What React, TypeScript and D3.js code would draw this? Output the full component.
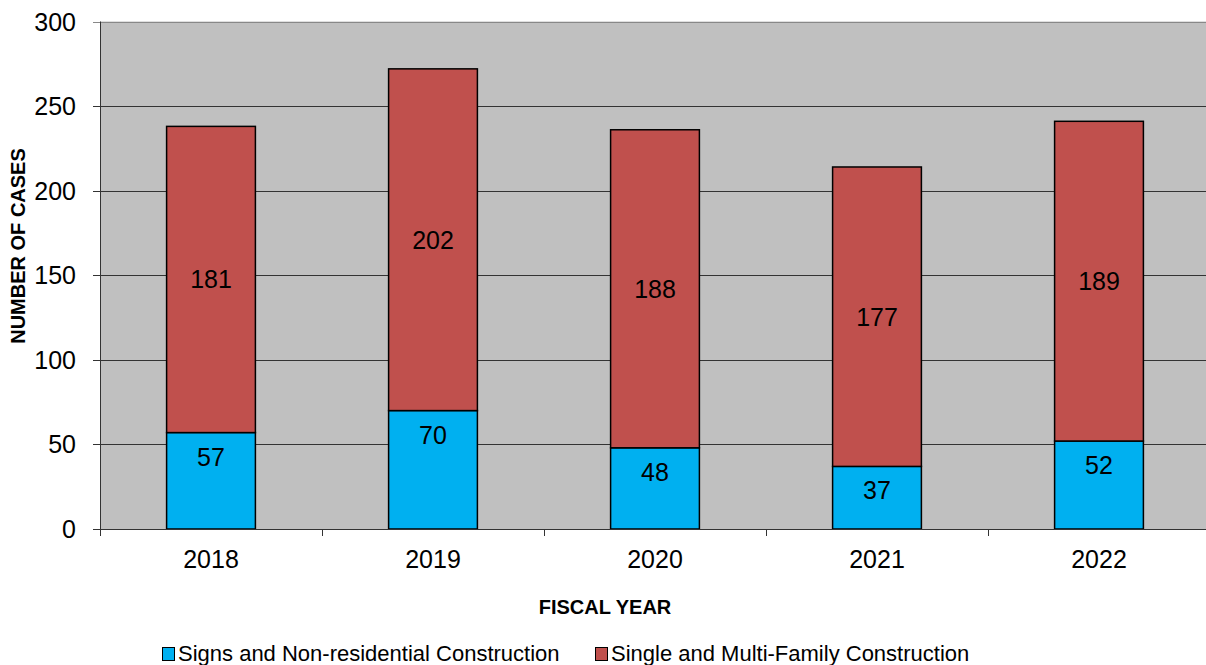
import React from "react";
import * as d3 from "d3";

const years = ["2018", "2019", "2020", "2021", "2022"];
const signsNonRes = [57, 70, 48, 37, 52];
const singleMulti = [181, 202, 188, 177, 189];
const yTicks = [0, 50, 100, 150, 200, 250, 300];
const seriesNames = ["Signs and Non-residential Construction", "Single and Multi-Family Construction"];
const colors = ["#00b0f0", "#c0504d"];

const W = 1206, H = 665;
const left = 100, right = 1210, top = 21.5, bottom = 529;
const font = "'Liberation Sans', Arial, sans-serif";

export default function App() {
  const x = d3.scaleBand<string>().domain(years).range([left, right]).paddingInner(0.6).paddingOuter(0.3);
  const xOuter = d3.scaleBand<string>().domain(years).range([left, right]);
  const y = d3.scaleLinear().domain([0, 300]).range([bottom, top]);

  return (
    <svg width={W} height={H} style={{ position: "absolute", left: 0, top: 0, background: "#fff" }}>
      <rect x={left} y={top} width={right - left} height={bottom - top} fill="#c0c0c0" />
      {yTicks.map((t) => (
        <g key={t}>
          <line x1={left - 7} x2={right} y1={Math.round(y(t)) + 0.5} y2={Math.round(y(t)) + 0.5} stroke={t === 300 ? "#888" : "#333"} strokeWidth={1} />
          <text x={left - 24} y={y(t)} dy="0.36em" textAnchor="end" fontFamily={font} fontSize={25} fill="#000">{t}</text>
        </g>
      ))}
      {years.map((yr, i) => {
        const bx = x(yr)!;
        const bw = x.bandwidth();
        const b0 = signsNonRes[i];
        const b1 = singleMulti[i];
        return (
          <g key={yr}>
            <rect x={bx} y={y(b0)} width={bw} height={y(0) - y(b0)} fill={colors[0]} stroke="#000" strokeWidth={1.5} />
            <rect x={bx} y={y(b0 + b1)} width={bw} height={y(b0) - y(b0 + b1)} fill={colors[1]} stroke="#000" strokeWidth={1.5} />
            <text x={bx + bw / 2} y={y(b0) + 24} dy="0.36em" textAnchor="middle" fontFamily={font} fontSize={25}>{b0}</text>
            <text x={bx + bw / 2} y={y(b0 + b1 / 2)} dy="0.36em" textAnchor="middle" fontFamily={font} fontSize={25}>{b1}</text>
            <text x={xOuter(yr)! + xOuter.bandwidth() / 2} y={559} dy="0.36em" textAnchor="middle" fontFamily={font} fontSize={25}>{yr}</text>
          </g>
        );
      })}
      <line x1={left + 0.5} x2={left + 0.5} y1={top} y2={bottom + 7} stroke="#333" strokeWidth={1} />
      <line x1={left} x2={right} y1={bottom + 0.5} y2={bottom + 0.5} stroke="#333" strokeWidth={1} />
      {years.map((yr) => (
        <line key={"t" + yr} x1={Math.round(xOuter(yr)!) + 0.5} x2={Math.round(xOuter(yr)!) + 0.5} y1={bottom} y2={bottom + 7} stroke="#333" strokeWidth={1} />
      ))}
      <text x={605} y={606.5} dy="0.36em" textAnchor="middle" fontFamily={font} fontSize={20} fontWeight="bold">FISCAL YEAR</text>
      <text transform={`translate(18,246) rotate(-90)`} dy="0.36em" textAnchor="middle" fontFamily={font} fontSize={20} fontWeight="bold">NUMBER OF CASES</text>
      {seriesNames.map((n, i) => {
        const lx = i === 0 ? 162 : 595;
        return (
          <g key={n}>
            <rect x={lx + 0.5} y={647.5} width={12} height={13} fill={colors[i]} stroke="#000" strokeWidth={1} />
            <text x={lx + 16} y={653} dy="0.36em" fontFamily={font} fontSize={22}>{n}</text>
          </g>
        );
      })}
    </svg>
  );
}
